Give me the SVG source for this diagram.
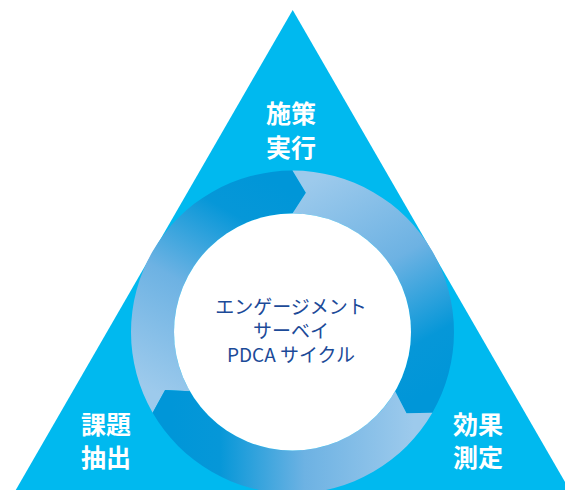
<svg xmlns="http://www.w3.org/2000/svg" width="565" height="490" viewBox="0 0 565 490">
  <defs>
    <linearGradient id="gA" gradientUnits="userSpaceOnUse" x1="171.3" y1="402" x2="292.5" y2="192">
      <stop offset="0" stop-color="#9dcaec"/>
      <stop offset="0.45" stop-color="#6db2e3"/>
      <stop offset="0.8" stop-color="#0697d8"/>
      <stop offset="1" stop-color="#0096d8"/>
    </linearGradient>
    <linearGradient id="gB" gradientUnits="userSpaceOnUse" x1="292.5" y1="192" x2="413.7" y2="402">
      <stop offset="0" stop-color="#9dcaec"/>
      <stop offset="0.45" stop-color="#6db2e3"/>
      <stop offset="0.8" stop-color="#0697d8"/>
      <stop offset="1" stop-color="#0096d8"/>
    </linearGradient>
    <linearGradient id="gC" gradientUnits="userSpaceOnUse" x1="413.7" y1="402" x2="171.3" y2="402">
      <stop offset="0" stop-color="#9dcaec"/>
      <stop offset="0.45" stop-color="#6db2e3"/>
      <stop offset="0.8" stop-color="#0697d8"/>
      <stop offset="1" stop-color="#0096d8"/>
    </linearGradient>
    <style>
      .label { font-family: "Noto Sans CJK JP", "Noto Sans", sans-serif; font-weight: 700; font-size: 25px; fill: #ffffff; text-anchor: middle; }
      .center { font-family: "Noto Sans CJK JP", "Noto Sans", sans-serif; font-weight: 400; font-size: 19px; fill: #1c4a98; text-anchor: middle; }
    </style>
  </defs>

  <g id="triangle">
    <polygon points="292.7,10 575.4,500 10,500" fill="#00b9ef"/>
  </g>

  <g id="cycle">
    <path id="segA" fill="url(#gA)" d="M 152.64 412.75 A 161.5 161.5 0 0 1 292.5 170.5 L 305.92 192.64 L 292.5 213.5 A 118.5 118.5 0 0 0 189.88 391.25 L 165.1 390.06 Z"/>
    <path id="segB" fill="url(#gB)" d="M 292.5 170.5 A 161.5 161.5 0 0 1 432.36 412.75 L 406.48 413.3 L 395.12 391.25 A 118.5 118.5 0 0 0 292.5 213.5 L 305.92 192.64 Z"/>
    <path id="segC" fill="url(#gC)" d="M 432.36 412.75 A 161.5 161.5 0 0 1 152.64 412.75 L 165.1 390.06 L 189.88 391.25 A 118.5 118.5 0 0 0 395.12 391.25 L 406.48 413.3 Z"/>
  </g>

  <g id="center-node">
    <circle cx="292.5" cy="332" r="118.5" fill="#ffffff"/>
    <text class="center" x="291" y="314">エンゲージメント</text>
    <text class="center" x="291" y="338">サーベイ</text>
    <text class="center" x="291" y="362">PDCA サイクル</text>
  </g>

  <g id="node-do">
    <text class="label" x="291" y="123">施策</text>
    <text class="label" x="291" y="157">実行</text>
  </g>

  <g id="node-plan">
    <text class="label" x="106" y="434">課題</text>
    <text class="label" x="106" y="467">抽出</text>
  </g>

  <g id="node-check">
    <text class="label" x="478" y="434">効果</text>
    <text class="label" x="478" y="467">測定</text>
  </g>
</svg>
